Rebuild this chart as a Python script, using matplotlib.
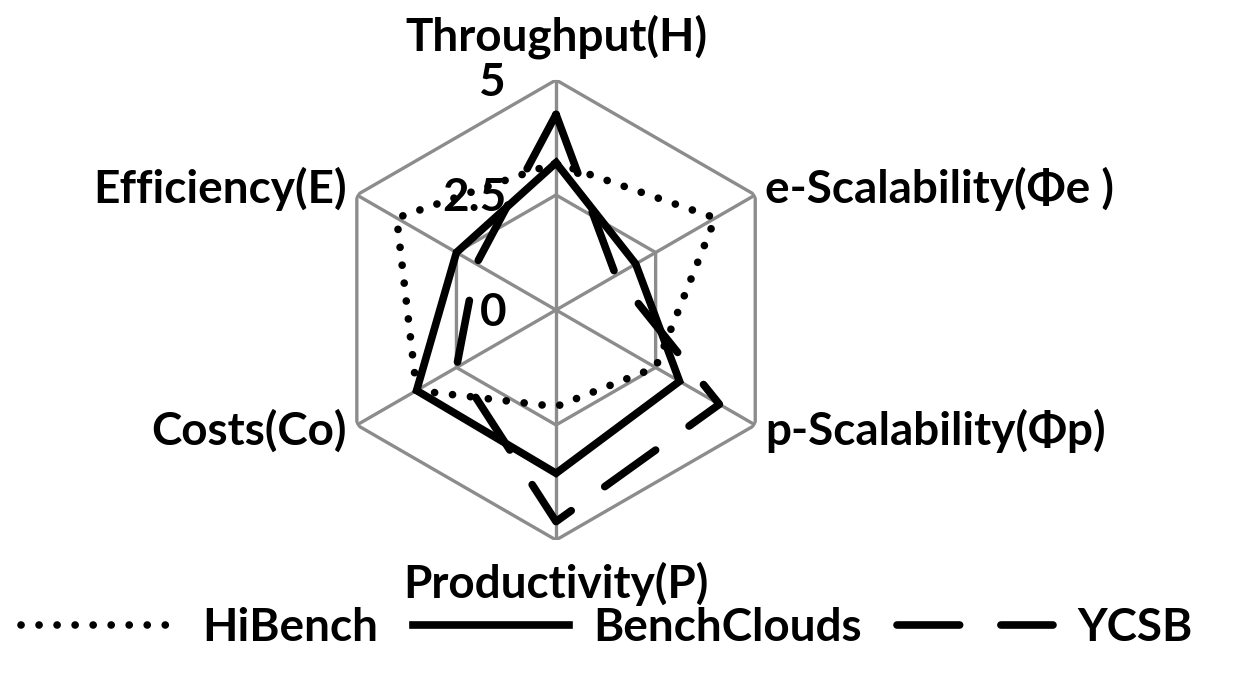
import numpy as np
import matplotlib
matplotlib.use("Agg")
import matplotlib.pyplot as plt
from matplotlib.transforms import offset_copy

categories = ["Throughput(H)", "e-Scalability(Φe )", "p-Scalability(Φp)",
              "Productivity(P)", "Costs(Co)", "Efficiency(E)"]
hibench = [3.2, 4.0, 2.5, 2.1, 3.5, 4.0]
benchclouds = [3.2, 2.0, 3.1, 3.55, 3.5, 2.5]
ycsb = [4.25, 1.5, 4.1, 4.6, 2.5, 2.0]
r_ticks = [0, 2.5, 5]
r_tick_labels = ["0", "2.5", "5"]

plt.rcParams["font.family"] = ["Lato", "DejaVu Sans"]
plt.rcParams["font.weight"] = "bold"
fs = 33

fig = plt.figure(figsize=(12.34, 6.8), dpi=100)
ax = fig.add_axes([0.2642, 0.2059, 0.3728, 0.6765], projection="polar")
ax.set_theta_zero_location("N")
ax.set_theta_direction(-1)
ax.set_ylim(0, 5)
ax.grid(False)
ax.spines["polar"].set_visible(False)
ax.set_xticks([])
ax.set_yticks([])
ax.patch.set_visible(False)

n = len(categories)
theta = np.linspace(0, 2 * np.pi, n, endpoint=False)
theta_c = np.append(theta, theta[0])

grey = "#8c8c8c"
for r in r_ticks[1:]:
    ax.plot(theta_c, [r] * (n + 1), color=grey, lw=2.4, zorder=1)
for t in theta:
    ax.plot([t, t], [0, 5], color=grey, lw=2.4, zorder=1)


def closed(v):
    return v + v[:1]


lw = 5.5
l1, = ax.plot(theta_c, closed(hibench), color="black", lw=lw,
              linestyle=(0, (0.01, 2.35)), dash_capstyle="round", zorder=3)
l2, = ax.plot(theta_c, closed(benchclouds), color="black", lw=lw,
              solid_joinstyle="miter", zorder=3)
l3, = ax.plot(theta_c, closed(ycsb), color="black", lw=lw,
              linestyle=(0, (8.2, 5.4)), dash_capstyle="round", zorder=3)

# radial tick labels, shifted left of the top spoke
tr = offset_copy(ax.transData, fig=fig, x=-50, y=-3, units="dots")
for r, s in zip(r_ticks, r_tick_labels):
    ax.text(0, r, s, transform=tr, ha="right", va="center", fontsize=fs,
            zorder=4)

# category labels
ax.text(theta[0], 5.95, categories[0], ha="center", va="center", fontsize=fs)
ax.text(theta[1], 5.25, categories[1], ha="left", va="center", fontsize=fs)
ax.text(theta[2], 5.25, categories[2], ha="left", va="center", fontsize=fs)
ax.text(theta[3], 5.95, categories[3], ha="center", va="center", fontsize=fs)
ax.text(theta[4], 5.25, categories[4], ha="right", va="center", fontsize=fs)
ax.text(theta[5], 5.25, categories[5], ha="right", va="center", fontsize=fs)

fig.legend([l1, l2, l3], ["HiBench", "BenchClouds", "YCSB"], ncol=3,
           loc="center", bbox_to_anchor=(0.492, 0.077), frameon=False,
           fontsize=fs, handlelength=3.4, handletextpad=0.55,
           columnspacing=0.75)

fig.savefig("out.png", dpi=100)
